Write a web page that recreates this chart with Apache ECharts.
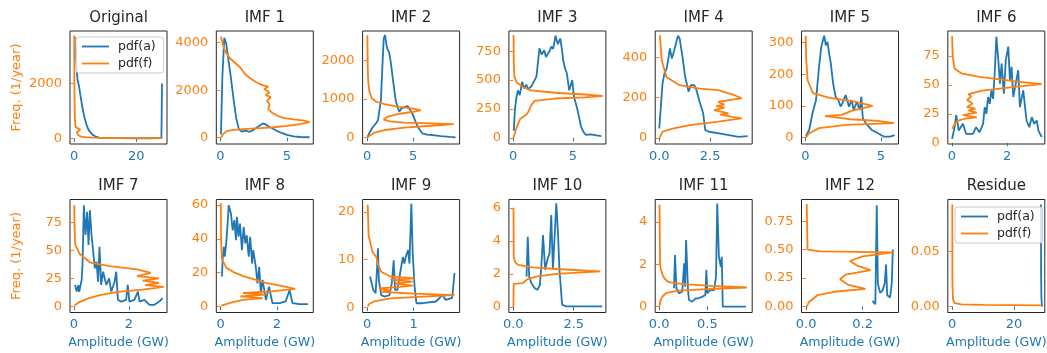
<!DOCTYPE html>
<html><head><meta charset="utf-8">
<script src="https://cdn.jsdelivr.net/npm/echarts@6/dist/echarts.min.js"></script>
<style>html,body{margin:0;padding:0;background:#fff}#c{width:1047px;height:353px}</style>
</head><body><div id="c"></div>
<script>
const titles = ['Original','IMF 1','IMF 2','IMF 3','IMF 4','IMF 5','IMF 6','IMF 7','IMF 8','IMF 9','IMF 10','IMF 11','IMF 12','Residue'];
const xTickLabels = [['0','20'],['0','5'],['0','5'],['0','5'],['0.0','2.5'],['0','5'],['0','2'],
                     ['0','2'],['0','2'],['0','1'],['0.0','2.5'],['0.0','0.5'],['0.0','0.2'],['0','20']];
const yTickLabels = [['0','2000'],['0','2000','4000'],['0','1000','2000'],['0','250','500','750'],['0','200','400'],['0','100','200','300'],['0','25','50','75'],
                     ['0','25','50','75'],['0','20','40','60'],['0','10','20'],['0','2','4','6'],['0','2','4'],['0.00','0.25','0.50','0.75'],['0.00','0.05']];
const xRanges = [[-1.3,29.9],[-0.3,6.98],[-0.49,10.04],[-0.36,7.78],[-0.2,4.57],[-0.26,6.16],[-0.145,3.36],
                 [-0.145,3.39],[-0.15,3.29],[-0.1,1.99],[-0.18,3.83],[-0.04,0.965],[-0.0165,0.327],[-1.4,30]];
const yRanges = [[-207,3913],[-264,4486],[-162,2758],[-54,925],[-31,532],[-20,336],[-1,96.5],
                 [-5.3,95.2],[-3.5,63.2],[-1.04,22.6],[-0.33,6.5],[-0.28,5.05],[-0.052,0.94],[-0.0055,0.0976]];

// pdf(a): [amplitude, value]; pdf(f): [value, frequency]
const origA = [[0.2,3700],[0.6,3000],[0.9,2500],[1.1,2150],[1.4,2000],[1.6,1900],[1.8,1950],[2.0,1600],[2.5,1250],[3.0,950],[3.5,700],[4.0,500],[4.5,350],[5.0,250],[6.0,130],[7.0,60],[8.0,25],[10,10],[15,5],[20,3],[25,3],[28.1,5],[28.3,2000]];
const origF = [[28.4,8],[20,8],[12,12],[6,22],[3.5,40],[2,70],[1.2,130],[0.9,220],[1.2,280],[2.0,320],[2.4,360],[1.5,380],[0.7,400],[0.4,480],[0.3,650],[0.2,1000],[0.13,1800],[0.08,2800],[0.05,3750]];
const imf1A = [[0.05,150],[0.15,2500],[0.3,4200],[0.45,3950],[0.6,3300],[0.8,2500],[1.0,1600],[1.2,800],[1.4,350],[1.6,260],[1.9,300],[2.2,250],[2.5,330],[2.8,450],[3.0,520],[3.2,600],[3.4,560],[3.6,480],[3.9,400],[4.2,300],[4.6,200],[5.0,120],[5.5,60],[6.0,30],[6.7,20]];
const imf1F = [[0.05,0],[0.2,150],[0.5,280],[1,330],[2,370],[3,400],[4,440],[5,500],[6,570],[6.7,660],[6.3,720],[5.5,770],[4.8,820],[4.3,920],[3.9,1050],[3.6,1200],[3.7,1400],[3.5,1550],[3.8,1700],[3.4,1800],[3.7,1900],[3.3,2050],[3.6,2150],[3.1,2220],[2.7,2330],[2.3,2480],[1.9,2650],[1.5,2950],[1.1,3150],[0.7,3350],[0.4,3600],[0.2,3900],[0.05,4250]];
const imf2A = [[0.05,20],[0.3,150],[0.64,284],[1.0,380],[1.18,455],[1.5,970],[1.65,1800],[1.8,2560],[1.95,2650],[2.1,2400],[2.2,2300],[2.4,2200],[2.6,1900],[2.8,1500],[3.1,970],[3.3,800],[3.5,670],[3.7,750],[3.9,700],[4.1,800],[4.4,820],[4.6,750],[4.9,630],[5.2,450],[5.5,280],[6.0,110],[6.5,80],[7.1,70],[8,40],[9,20],[9.6,10]];
const imf2F = [[0.02,0],[0.3,60],[0.8,130],[2,200],[4,260],[7,310],[9.4,350],[7,370],[4,390],[2.5,420],[1.8,470],[2.2,540],[3.5,620],[5,670],[5.8,710],[5,750],[3.5,800],[2.0,860],[1.0,930],[0.5,1020],[0.25,1200],[0.12,1450],[0.07,1800],[0.05,2200],[0.03,2650]];
const imf3A = [[0.05,60],[0.15,250],[0.28,355],[0.4,410],[0.55,370],[0.75,485],[0.9,430],[1.1,460],[1.25,420],[1.4,410],[1.55,450],[1.7,460],[1.95,530],[2.1,670],[2.2,775],[2.4,720],[2.6,760],[2.75,700],[2.9,690],[3.05,750],[3.2,790],[3.35,770],[3.5,850],[3.55,885],[3.75,810],[3.95,860],[4.1,760],[4.2,670],[4.35,600],[4.5,560],[4.7,410],[4.95,500],[5.1,355],[5.25,300],[5.4,240],[5.7,95],[5.9,50],[6.1,25],[6.5,30],[7.0,20],[7.4,15]];
const imf3F = [[0.02,0],[0.15,40],[0.3,95],[0.6,165],[1.1,200],[1.3,230],[1.5,280],[1.8,320],[3.5,340],[6,350],[7.5,362],[6,375],[3.5,390],[1.5,410],[0.8,440],[0.3,480],[0.1,530],[0.05,650],[0.03,890]];
const imf4A = [[0.0,46],[0.16,270],[0.25,320],[0.36,345],[0.46,402],[0.52,445],[0.62,395],[0.74,437],[0.82,470],[0.92,508],[1.0,495],[1.14,405],[1.27,305],[1.44,230],[1.55,262],[1.72,262],[1.83,237],[1.96,188],[2.04,196],[2.16,121],[2.26,38],[2.45,30],[2.94,22],[3.43,13],[3.9,5],[4.35,8]];
const imf4F = [[0.02,0],[0.15,30],[0.65,46],[1.5,63],[2.9,80],[3.6,90],[4.05,97],[3.6,104],[3.0,115],[3.4,121],[2.7,138],[3.2,150],[2.8,158],[3.2,165],[2.9,179],[3.6,190],[4.05,197],[3.7,212],[2.9,237],[2.0,245],[1.0,262],[0.35,303],[0.12,386],[0.03,510]];
const imf5A = [[0.03,5],[0.25,25],[0.48,80],[0.7,118],[0.9,223],[1.05,286],[1.24,321],[1.35,291],[1.46,302],[1.57,265],[1.68,234],[1.83,171],[2.0,129],[2.18,118],[2.33,98],[2.44,108],[2.66,134],[2.88,98],[3.06,118],[3.2,87],[3.4,113],[3.6,87],[3.7,129],[3.8,61],[4.0,45],[4.4,24],[4.8,14],[5.2,3],[5.6,3],[5.9,8]];
const imf5F = [[0.02,0],[0.25,14],[0.9,30],[2.7,40],[5.85,46],[4.8,53],[3.0,58],[2.0,64],[1.3,68],[2.4,72],[3.1,85],[4.45,100],[3.1,115],[1.6,125],[0.5,140],[0.15,180],[0.05,250],[0.02,320]];
const imf6A = [[0.01,3.4],[0.1,13.5],[0.16,24],[0.25,10.6],[0.4,16.4],[0.52,7.7],[0.76,7.7],[0.88,13.5],[1.0,9.1],[1.13,16.4],[1.19,30.8],[1.25,25],[1.31,39.5],[1.37,33.7],[1.43,45.3],[1.49,38],[1.55,59.8],[1.61,91.6],[1.68,71.4],[1.74,51],[1.8,68.5],[1.88,42.4],[1.95,71.4],[2.04,83],[2.1,54],[2.16,65.6],[2.22,39.5],[2.31,51],[2.4,62.7],[2.46,30.8],[2.58,45.3],[2.7,19.3],[2.8,13.5],[2.89,22.2],[2.98,16.4],[3.07,19.3],[3.13,10.6],[3.25,4.9]];
const imf6F = [[0.01,12],[0.1,16],[0.2,19],[0.5,21],[0.9,22],[0.4,24],[0.9,26],[0.6,28],[0.85,29.5],[0.55,31],[0.75,34],[0.55,37],[0.7,40],[0.6,42],[1.1,45],[2.2,48],[3.25,50.6],[2.3,53],[1.0,57],[0.35,60],[0.1,64],[0.03,75],[0.01,92]];
const imf7A = [[0.04,19.2],[0.1,13.3],[0.16,19],[0.19,13],[0.28,23.6],[0.31,37],[0.36,90],[0.42,63.6],[0.48,84.3],[0.53,54.7],[0.58,85.7],[0.64,63.6],[0.7,48.8],[0.76,34],[0.82,39.9],[0.88,22],[0.93,53.2],[0.99,19.2],[1.06,31],[1.18,19.2],[1.28,25],[1.36,13.3],[1.48,22],[1.54,31],[1.6,6],[1.72,4.4],[1.9,6],[1.96,19.2],[2.02,4.4],[2.2,6],[2.33,13.3],[2.39,4.4],[2.57,6],[2.75,1.5],[2.93,1.5],[3.11,4.4],[3.23,7.5]];
const imf7F = [[0.02,1],[0.2,4],[0.5,7],[0.9,10],[1.6,13],[2.5,15],[3.27,17.5],[2.6,19],[3.1,21],[2.5,23],[3.1,25],[2.3,27],[2.8,30],[2.3,33],[1.3,36],[0.6,39],[0.2,47],[0.05,55],[0.02,70],[0.01,90]];
const imf8A = [[0.05,17.7],[0.08,29.4],[0.12,35.3],[0.15,29.4],[0.2,37.3],[0.26,51],[0.29,59.8],[0.37,54.9],[0.43,45],[0.49,51],[0.55,39.2],[0.58,53],[0.64,41.2],[0.69,49],[0.76,33.3],[0.82,47],[0.88,37.3],[0.93,42],[1.0,29.4],[1.05,41.2],[1.12,25.5],[1.16,33.3],[1.25,23.5],[1.31,13.7],[1.37,23.5],[1.43,7.8],[1.49,15.7],[1.61,3.9],[1.72,11.8],[1.84,2],[2.1,2],[2.31,3],[2.45,9.8],[2.55,2],[2.8,1.5],[3.1,1.5]];
const imf8F = [[0.03,0.5],[0.4,2.5],[0.8,4],[1.5,5],[0.7,6],[1.6,7],[0.8,8],[1.8,9],[2.65,10.5],[2.2,12],[1.6,14],[1.2,16],[0.8,18],[0.5,20],[0.2,23],[0.05,28],[0.02,40],[0.01,61]];
const imf9A = [[0.06,6.5],[0.1,6.8],[0.13,3.7],[0.18,3.0],[0.21,7.9],[0.23,12.4],[0.25,5.8],[0.3,2.6],[0.37,2.3],[0.48,2.6],[0.53,5.1],[0.57,9.9],[0.6,3.7],[0.65,3.7],[0.72,7.9],[0.77,10.6],[0.8,9.2],[0.84,10.9],[0.88,12],[0.91,9.2],[0.95,21.7],[0.98,11.3],[1.02,4.4],[1.06,0.9],[1.19,0.9],[1.48,1.26],[1.62,2.6],[1.69,1.6],[1.83,2.0],[1.88,7.2]];
const imf9F = [[0.01,0.3],[0.05,0.8],[0.15,1.3],[0.5,1.9],[1.2,2.3],[1.88,2.6],[1.0,2.9],[0.3,3.3],[0.5,3.6],[0.25,4.0],[0.7,4.3],[0.98,4.6],[0.6,5.0],[0.98,5.4],[0.5,5.8],[1.02,6.1],[0.5,6.5],[0.3,7.5],[0.25,8.5],[0.22,9.5],[0.2,10.5],[0.12,11.5],[0.08,13],[0.03,15],[0.01,21.5]];
const imf10A = [[0.55,1.84],[0.6,4.25],[0.66,1.84],[0.75,1.44],[0.89,1.14],[1.0,1.04],[1.1,1.34],[1.17,2.65],[1.23,4.35],[1.32,2.25],[1.41,2.85],[1.5,3.25],[1.57,5.56],[1.64,2.25],[1.71,4.25],[1.78,6.27],[1.85,4.45],[1.91,2.25],[2.02,0.14],[2.19,0.04],[3.0,0.04],[3.68,0.04]];
const imf10F = [[0.01,0],[0.01,1.0],[0.02,1.4],[0.4,1.45],[0.6,1.7],[1.0,1.85],[1.8,2.0],[3.6,2.15],[1.8,2.3],[0.8,2.4],[0.2,2.55],[0.08,2.7],[0.02,3.0],[0.01,6.0]];
const imf11A = [[0.155,0.86],[0.165,2.43],[0.18,0.86],[0.207,0.63],[0.24,0.7],[0.26,2.04],[0.27,0.94],[0.28,3.14],[0.3,0.78],[0.31,0.31],[0.345,0.23],[0.38,0.39],[0.41,0.39],[0.45,0.47],[0.48,0.55],[0.49,1.73],[0.5,0.63],[0.53,0.78],[0.57,0.78],[0.59,1.41],[0.603,4.86],[0.62,2.35],[0.64,1.88],[0.65,2.35],[0.66,0.0],[0.9,0.0]];
const imf11F = [[0.003,0],[0.01,0.2],[0.02,0.35],[0.04,0.5],[0.08,0.65],[0.2,0.75],[0.5,0.82],[0.91,0.9],[0.55,0.98],[0.25,1.06],[0.1,1.15],[0.06,1.3],[0.04,1.45],[0.03,1.6],[0.02,1.75],[0.01,2.0],[0.005,4.8]];
const imf12A = [[0.235,0.05],[0.245,0.02],[0.25,0.89],[0.254,0.2],[0.262,0.12],[0.27,0.14],[0.278,0.2],[0.283,0.37],[0.287,0.1],[0.297,0.08],[0.303,0.2],[0.307,0.5]];
const imf12F = [[0.002,0],[0.01,0.04],[0.04,0.1],[0.1,0.13],[0.21,0.155],[0.15,0.19],[0.12,0.24],[0.14,0.28],[0.228,0.32],[0.18,0.36],[0.155,0.4],[0.2,0.44],[0.31,0.475],[0.05,0.485],[0.005,0.5],[0.002,0.9]];
const residA = [[28.75,0.093],[28.8,0.03],[28.9,0.008],[29.1,0.0]];
const residF = [[0.05,0.093],[0.1,0.02],[0.3,0.006],[0.9,0.003],[3,0.002],[10,0.0015],[20,0.0012],[28.7,0.001]];

const pdfA = [origA,imf1A,imf2A,imf3A,imf4A,imf5A,imf6A,imf7A,imf8A,imf9A,imf10A,imf11A,imf12A,residA];
const pdfF = [origF,imf1F,imf2F,imf3F,imf4F,imf5F,imf6F,imf7F,imf8F,imf9F,imf10F,imf11F,imf12F,residF];

const BLUE = '#1f77b4', ORANGE = '#ff7f0e', FONT = 'DejaVu Sans', INK = '#262626';
const G = {left0: 70, dx: 146.3, w: 97, h: 113, top: [31, 199.5]};

function fmt(labels) {
  const vals = labels.map(Number);
  return v => { for (let k = 0; k < vals.length; k++) if (Math.abs(vals[k] - v) < 1e-9) return labels[k]; return ''; };
}

const grid = [], xAxis = [], yAxis = [], series = [], graphic = [];
for (let i = 0; i < 14; i++) {
  const col = i % 7, row = Math.floor(i / 7);
  const left = G.left0 + col * G.dx, top = G.top[row];
  grid.push({left, top, width: G.w, height: G.h, show: true, borderColor: INK, borderWidth: 1,
             backgroundColor: 'rgba(0,0,0,0)', containLabel: false, outerBoundsMode: 'none'});
  xAxis.push({type: 'value', gridIndex: i, min: xRanges[i][0], max: xRanges[i][1],
    axisLine: {show: false}, splitLine: {show: false},
    axisTick: {show: true, length: 3.5, lineStyle: {color: BLUE, width: 1}, customValues: xTickLabels[i].map(Number)},
    axisLabel: {customValues: xTickLabels[i].map(Number), formatter: fmt(xTickLabels[i]), color: BLUE, fontSize: 13, fontFamily: FONT, margin: 6},
    name: row === 1 ? 'Amplitude (GW)' : '', nameLocation: 'middle', nameGap: 24,
    nameTextStyle: {color: BLUE, fontSize: 12.6, fontFamily: FONT}});
  yAxis.push({type: 'value', gridIndex: i, min: yRanges[i][0], max: yRanges[i][1],
    axisLine: {show: false}, splitLine: {show: false},
    axisTick: {show: true, length: 3.5, lineStyle: {color: ORANGE, width: 1}, customValues: yTickLabels[i].map(Number)},
    axisLabel: {customValues: yTickLabels[i].map(Number), formatter: fmt(yTickLabels[i]), color: ORANGE, fontSize: 13, fontFamily: FONT, margin: 8},
    name: col === 0 ? 'Freq. (1/year)' : '', nameLocation: 'middle', nameGap: 47,
    nameTextStyle: {color: ORANGE, fontSize: 13, fontFamily: FONT}});
  series.push({type: 'line', name: 'pdf(a)', xAxisIndex: i, yAxisIndex: i, data: pdfA[i], showSymbol: false, symbol: 'none',
    lineStyle: {color: BLUE, width: 1.8}, itemStyle: {color: BLUE}, clip: true, z: 2});
  series.push({type: 'line', name: 'pdf(f)', xAxisIndex: i, yAxisIndex: i, data: pdfF[i], showSymbol: false, symbol: 'none',
    lineStyle: {color: ORANGE, width: 1.8}, itemStyle: {color: ORANGE}, clip: true, z: 3});
  graphic.push({type: 'text', x: left + G.w / 2, y: row ? 186.5 : 18,
    style: {text: titles[i], fill: INK, font: '15px "DejaVu Sans"', textAlign: 'center', textVerticalAlign: 'middle'}});
}

const legendBase = {data: ['pdf(a)', 'pdf(f)'], orient: 'vertical', icon: 'rect', itemWidth: 27, itemHeight: 1.8,
  itemGap: 4, padding: [3, 8, 3, 6], backgroundColor: 'rgba(255,255,255,0.8)', borderColor: '#cccccc', borderWidth: 1,
  borderRadius: 3, selectedMode: false, textStyle: {color: INK, fontSize: 12.5, fontFamily: FONT, padding: [0, 0, 0, 4]}};

const chart = echarts.init(document.getElementById('c'), null, {renderer: 'canvas'});
chart.setOption({
  animation: false,
  backgroundColor: '#ffffff',
  grid, xAxis, yAxis, series, graphic,
  legend: [Object.assign({left: 76, top: 37}, legendBase), Object.assign({left: 955, top: 207}, legendBase)]
});
</script></body></html>
